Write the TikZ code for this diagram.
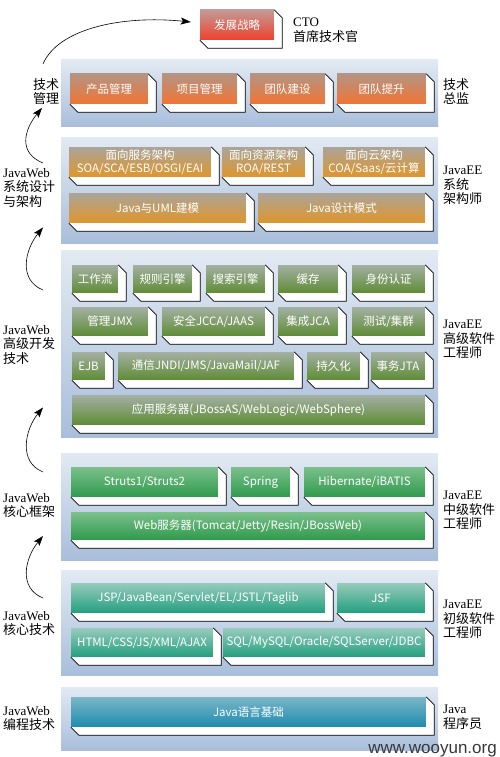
\documentclass[tikz,border=0pt]{standalone}
\usepackage{fontspec}
\usetikzlibrary{arrows.meta}
\newfontfamily\cjk{Noto Sans CJK SC}
\newfontfamily\lat{Liberation Serif}
\newfontfamily\wmfont{Liberation Sans}

% colours of the panels and the bars
\definecolor{panTop}{HTML}{E2EAF3}
\definecolor{panBot}{HTML}{A9BEDB}
\definecolor{redTop}{HTML}{C49A96}\definecolor{redBot}{HTML}{F0402C}
\definecolor{orgTop}{HTML}{B49484}\definecolor{orgBot}{HTML}{F27432}
\definecolor{gldTop}{HTML}{AAA49A}\definecolor{gldBot}{HTML}{E0962A}
\definecolor{olvTop}{HTML}{A4B0A4}\definecolor{olvBot}{HTML}{5E8C34}
\definecolor{grnTop}{HTML}{7CC08C}\definecolor{grnBot}{HTML}{2E9A4C}
\definecolor{tealTop}{HTML}{98CBBC}\definecolor{tealBot}{HTML}{22A07E}
\definecolor{bluTop}{HTML}{7AB6C8}\definecolor{bluBot}{HTML}{1E8CAE}

\newcommand{\boxfont}{\cjk\fontsize{11.5}{13.5}\selectfont}
\newcommand{\labfont}{\cjk\fontsize{13}{14.5}\selectfont}

% bar with white bottom/right faces: style, name, x1, y1, x2, y2, text
\newcommand{\jbox}[7]{%
  \node[#1, minimum width={(#5-#3)*1pt}, minimum height={(#6-#4)*1pt}] (#2) at ({(#3+#5)/2},{(#4+#6)/2}) {#7};
  \fill[white] (#2.north east) -- ++(8pt,-8pt) -- ([shift={(8pt,-8pt)}]#2.south east)
    -- ([shift={(8pt,-8pt)}]#2.south west) -- (#2.south west) -- (#2.south east) -- cycle;
  \draw[edge] (#2.north east) -- ++(8pt,-8pt) -- ([shift={(8pt,-8pt)}]#2.south east)
    -- ([shift={(8pt,-8pt)}]#2.south west) -- (#2.south west);
}

\begin{document}
\begin{tikzpicture}[x=1pt, y=-1pt]
        \tikzstyle{face}=[inner sep=0pt, text=white, font=\boxfont, align=center]
        \tikzstyle{edge}=[line width=0.7pt, black]
        \tikzstyle{panel}=[top color=panTop, bottom color=panBot]
        \tikzstyle{lab}=[inner sep=0pt, anchor=north west, align=left, font=\labfont]
        \tikzstyle{up}=[-{Stealth[length=10pt,width=7pt,inset=2pt]}, line width=0.6pt]
        \tikzstyle{red}=[face, top color=redTop, bottom color=redBot]
        \tikzstyle{org}=[face, top color=orgTop, bottom color=orgBot]
        \tikzstyle{gld}=[face, top color=gldTop, bottom color=gldBot]
        \tikzstyle{olv}=[face, top color=olvTop, bottom color=olvBot]
        \tikzstyle{grn}=[face, top color=grnTop, bottom color=grnBot]
        \tikzstyle{teal}=[face, top color=tealTop, bottom color=tealBot]
        \tikzstyle{blu}=[face, top color=bluTop, bottom color=bluBot]

        \useasboundingbox (0,0) rectangle (499,757);

        % 背景面板
        \foreach \t/\b in {60/127, 137/243, 250/437, 453/560, 570/675, 687/750} {
            \shade[panel] (61,\t) rectangle (438,\b);
        }

        % 顶层
        \jbox{red}{fz}{200}{10}{274}{40}{发展战略}

        % 技术总监
        \jbox{org}{cp}{70}{74}{148}{104}{产品管理}
        \jbox{org}{xm}{162}{74}{237}{104}{项目管理}
        \jbox{org}{td}{250}{74}{325}{104}{团队建设}
        \jbox{org}{ts}{337}{74}{426}{104}{团队提升}

        % 系统架构师
        \jbox{gld}{fw}{69}{147}{211}{177}{面向服务架构\\SOA/SCA/ESB/OSGI/EAI}
        \jbox{gld}{zy}{222}{147}{305}{177}{面向资源架构\\ROA/REST}
        \jbox{gld}{yun}{323}{147}{425}{177}{面向云架构\\COA/Saas/云计算}
        \jbox{gld}{uml}{69}{193}{246}{223}{Java与UML建模}
        \jbox{gld}{ms}{258}{193}{425}{223}{Java设计模式}

        % 高级软件工程师
        \jbox{olv}{gzl}{72}{265}{118}{293}{工作流}
        \jbox{olv}{gz}{133}{265}{192}{293}{规则引擎}
        \jbox{olv}{ss}{206}{265}{265}{293}{搜索引擎}
        \jbox{olv}{hc}{278}{265}{338}{293}{缓存}
        \jbox{olv}{rz}{352}{265}{425}{293}{身份认证}
        \jbox{olv}{jmx}{72}{307}{148}{336}{管理JMX}
        \jbox{olv}{aq}{162}{307}{265}{336}{安全JCCA/JAAS}
        \jbox{olv}{jca}{278}{307}{338}{336}{集成JCA}
        \jbox{olv}{jq}{352}{307}{425}{336}{测试/集群}
        \jbox{olv}{ejb}{72}{352}{105}{380}{EJB}
        \jbox{olv}{tx}{118}{352}{294}{380}{通信JNDI/JMS/JavaMail/JAF}
        \jbox{olv}{cjh}{307}{352}{360}{380}{持久化}
        \jbox{olv}{jta}{371}{352}{425}{380}{事务JTA}
        \jbox{olv}{yy}{72}{395}{425}{425}{应用服务器(JBossAS/WebLogic/WebSphere)}

        % 中级软件工程师
        \jbox{grn}{st}{71}{467}{218}{497}{Struts1/Struts2}
        \jbox{grn}{sp}{231}{467}{290}{497}{Spring}
        \jbox{grn}{hb}{304}{467}{425}{497}{Hibernate/iBATIS}
        \jbox{grn}{web}{71}{512}{425}{540}{Web服务器(Tomcat/Jetty/Resin/JBossWeb)}

        % 初级软件工程师
        \jbox{teal}{jsp}{71}{583}{325}{613}{JSP/JavaBean/Servlet/EL/JSTL/Taglib}
        \jbox{teal}{jsf}{337}{583}{425}{613}{JSF}
        \jbox{teal}{html}{71}{628}{213}{657}{HTML/CSS/JS/XML/AJAX}
        \jbox{teal}{sql}{223}{628}{425}{657}{SQL/MySQL/Oracle/SQLServer/JDBC}

        % 程序员
        \jbox{blu}{jy}{71}{697}{426}{727}{Java语言基础}

        % 左侧文字
        \node[lab] (tm) at (33,78) {技术\\管理};
        \node[lab] (sj) at (3,168) {{\lat JavaWeb}\\系统设计\\与架构};
        \node[lab] (gj) at (3,325) {{\lat JavaWeb}\\高级开发\\技术};
        \node[lab] (kk) at (3,493) {{\lat JavaWeb}\\核心框架};
        \node[lab] (kj) at (3,611) {{\lat JavaWeb}\\核心技术};
        \node[lab] (bc) at (3,706) {{\lat JavaWeb}\\编程技术};

        % 右侧文字
        \node[lab] (cto) at (293,18) {{\lat CTO}\\首席技术官};
        \node[lab] (zj) at (443,78) {技术\\总监};
        \node[lab] (jgs) at (443,166) {{\lat JavaEE}\\系统\\架构师};
        \node[lab] (gr) at (443,320) {{\lat JavaEE}\\高级软件\\工程师};
        \node[lab] (zr) at (443,491) {{\lat JavaEE}\\中级软件\\工程师};
        \node[lab] (cr) at (443,600) {{\lat JavaEE}\\初级软件\\工程师};
        \node[lab] (cx) at (443,705) {{\lat Java}\\程序员};

        % 晋升箭头
        \draw[up] ([xshift=10pt,yshift=14pt]tm.north west) .. controls +(15,-35) and +(-70,-7) .. ([xshift=-9pt,yshift=3pt]fz.west);
        \draw[up] ([xshift=40pt,yshift=5pt]sj.north west) .. controls +(-25,-10) and +(-18,22) .. ([xshift=9pt,yshift=-3pt]tm.south west);
        \draw[up] ([xshift=40pt,yshift=35pt]gj.north west) .. controls +(-25,-10) and +(-18,22) .. ([xshift=40pt,yshift=-20pt]sj.south west);
        \draw[up] ([xshift=40pt,yshift=21pt]kk.north west) .. controls +(-25,-10) and +(-18,22) .. ([xshift=40pt,yshift=-43pt]gj.south west);
        \draw[up] ([xshift=40pt,yshift=13pt]kj.north west) .. controls +(-25,-10) and +(-18,22) .. ([xshift=40pt,yshift=-18pt]kk.south west);

        % 水印
        \node[anchor=base east, inner sep=0pt, font=\wmfont\fontsize{17}{17}\selectfont, text=black!78] (wm) at (497,753) {www.wooyun.org};
\end{tikzpicture}
\end{document}
